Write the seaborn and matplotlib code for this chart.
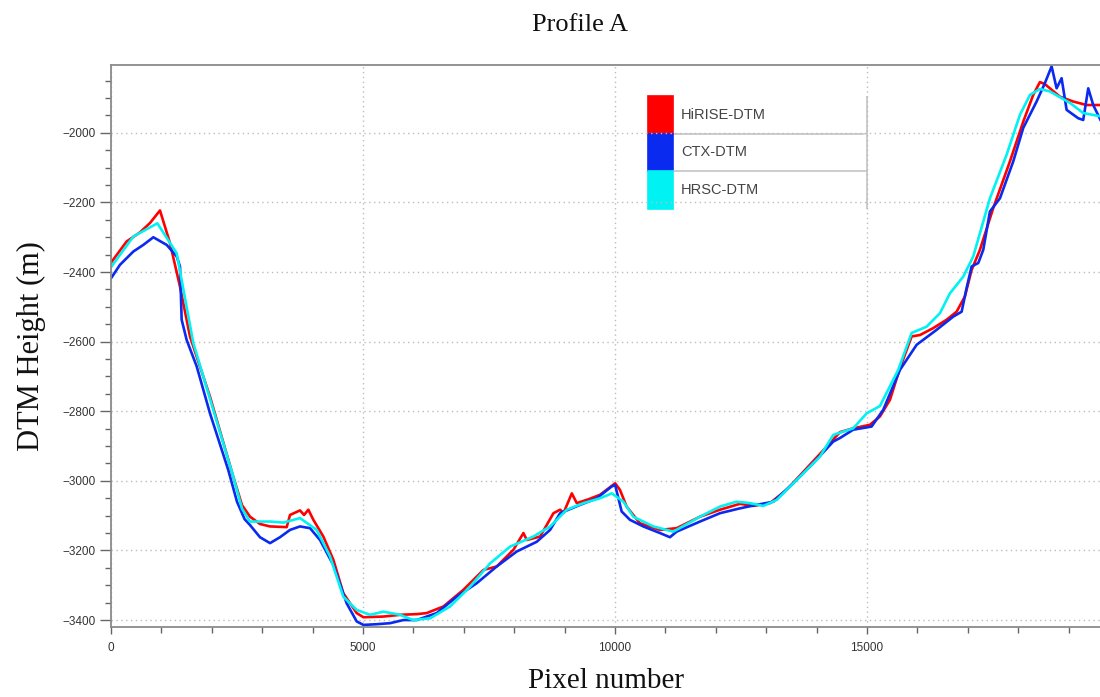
import matplotlib
matplotlib.use("Agg")
import matplotlib.pyplot as plt
import numpy as np
import pandas as pd
import seaborn as sns
from matplotlib.ticker import MultipleLocator

# ---------------- data ----------------
series_names = ["HiRISE-DTM", "CTX-DTM", "HRSC-DTM"]
series_colors = ["#ff0000", "#0a2af0", "#00f2f2"]

hirise_x = [0, 311, 575, 774, 972, 1171, 1369, 1567, 1964, 2426, 2600, 2758, 2956, 3155, 3486,
            3552, 3750, 3830, 3916, 4015, 4213, 4412, 4610, 4875, 5008, 5405, 5736, 6066, 6265,
            6596, 6993, 7390, 7654, 7985, 8183, 8250, 8514, 8779, 8911, 8980, 9143, 9242, 9474,
            9705, 10003, 10099, 10231, 10495, 10892, 11223, 11686, 12083, 12480, 12743, 13075,
            13405, 13802, 14199, 14463, 14727, 15058, 15257, 15456, 15654, 15886, 16051, 16315,
            16580, 16778, 16943, 17076, 17241, 17505, 17836, 18100, 18298, 18431, 18530, 18828,
            19092, 19357, 19650]
hirise_y = [-2373, -2312, -2286, -2259, -2223, -2317, -2442, -2585, -2758, -2988, -3070, -3103,
            -3124, -3131, -3133, -3098, -3085, -3098, -3083, -3112, -3160, -3227, -3323, -3380,
            -3392, -3390, -3385, -3383, -3380, -3361, -3313, -3256, -3246, -3198, -3150, -3170,
            -3160, -3093, -3083, -3092, -3036, -3064, -3053, -3040, -3007, -3026, -3074, -3122,
            -3141, -3136, -3103, -3083, -3066, -3072, -3064, -3026, -2964, -2902, -2860, -2849,
            -2839, -2815, -2767, -2676, -2585, -2581, -2561, -2537, -2514, -2470, -2394, -2336,
            -2216, -2082, -1968, -1891, -1854, -1860, -1896, -1910, -1920, -1920]

ctx_x = [0, 179, 443, 641, 840, 1105, 1303, 1369, 1402, 1501, 1700, 1964, 2327, 2500, 2650,
         2758, 2956, 3155, 3353, 3552, 3750, 3949, 4147, 4412, 4676, 4875, 5008, 5273, 5538,
         5802, 6066, 6463, 6860, 7258, 7654, 8051, 8448, 8712, 8911, 9308, 9639, 9936, 10003,
         10132, 10297, 10561, 10892, 11090, 11223, 11686, 12083, 12480, 12810, 13141, 13537,
         13934, 14331, 14463, 14727, 15091, 15322, 15654, 15985, 16381, 16712, 16878, 16976,
         17076, 17208, 17307, 17439, 17638, 17902, 18100, 18365, 18530, 18663, 18762, 18861,
         18961, 19191, 19290, 19390, 19489, 19650]
ctx_y = [-2418, -2379, -2341, -2322, -2300, -2322, -2355, -2384, -2537, -2595, -2671, -2806,
         -2969, -3060, -3110, -3127, -3162, -3179, -3162, -3141, -3131, -3136, -3170, -3242,
         -3352, -3404, -3414, -3412, -3409, -3400, -3400, -3380, -3333, -3294, -3246, -3203,
         -3175, -3141, -3093, -3069, -3050, -3016, -3012, -3088, -3112, -3131, -3150, -3162,
         -3146, -3117, -3093, -3079, -3069, -3060, -3007, -2949, -2887, -2877, -2853, -2844,
         -2796, -2681, -2609, -2566, -2528, -2514, -2446, -2384, -2374, -2336, -2226, -2188,
         -2082, -1986, -1910, -1857, -1809, -1872, -1843, -1934, -1958, -1963, -1872, -1920,
         -1968]

hrsc_x = [0, 443, 920, 1303, 1633, 2426, 2600, 2758, 3155, 3420, 3750, 4081, 4345, 4610, 4875,
          5140, 5405, 5736, 5995, 6331, 6728, 7125, 7522, 7919, 8382, 8713, 9044, 9375, 9705,
          9937, 10168, 10363, 10760, 11157, 11686, 12083, 12413, 12677, 12942, 13207, 13670,
          14067, 14331, 14727, 14993, 15257, 15620, 15886, 16183, 16448, 16646, 16911, 17109,
          17439, 17770, 18035, 18233, 18431, 18630, 19027, 19290, 19650]
hrsc_y = [-2386, -2298, -2260, -2346, -2604, -2988, -3080, -3117, -3117, -3120, -3107, -3141,
          -3217, -3333, -3371, -3385, -3376, -3385, -3400, -3395, -3361, -3304, -3237, -3189,
          -3160, -3131, -3083, -3064, -3050, -3036, -3060, -3103, -3131, -3146, -3103, -3074,
          -3060, -3064, -3072, -3055, -2988, -2930, -2868, -2849, -2806, -2785, -2681, -2575,
          -2557, -2518, -2461, -2413, -2355, -2188, -2063, -1948, -1891, -1874, -1881, -1914,
          -1943, -1953]

x_major_ticks = [0, 5000, 10000, 15000]
y_major_ticks = [-3400, -3200, -3000, -2800, -2600, -2400, -2200, -2000]

# ---------------- figure ----------------
sns.set_style("ticks")
plt.rcParams["font.family"] = ["Liberation Sans", "DejaVu Sans"]
plt.rcParams["axes.unicode_minus"] = True

fig = plt.figure(figsize=(11, 6.97), dpi=100)
ax = fig.add_axes([111 / 1100, 70 / 697, 990 / 1100, 562 / 697])

frames = []
for name, xs, ys in zip(series_names, [hirise_x, ctx_x, hrsc_x], [hirise_y, ctx_y, hrsc_y]):
    frames.append(pd.DataFrame({"pixel": xs, "height": ys, "series": name}))
df = pd.concat(frames, ignore_index=True)

sns.lineplot(data=df, x="pixel", y="height", hue="series", hue_order=series_names,
             palette=dict(zip(series_names, series_colors)), estimator=None, sort=False,
             legend=False, linewidth=1.9, ax=ax)

ax.set_xlim(0, 19643)
ax.set_ylim(-3420, -1805)
ax.set_xticks(x_major_ticks)
ax.set_yticks(y_major_ticks)
ax.xaxis.set_minor_locator(MultipleLocator(1000))
ax.yaxis.set_minor_locator(MultipleLocator(50))

ax.grid(which="major", linestyle=(0, (1, 2.5)), color="#bcbcbc", linewidth=1.0)
ax.set_axisbelow(True)

for s in ["left", "top", "bottom"]:
    ax.spines[s].set_color("#8a8a8a")
    ax.spines[s].set_linewidth(1.3)
ax.spines["right"].set_visible(False)

ax.tick_params(axis="y", which="major", direction="out", length=8, width=1, color="#666666",
               labelsize=8.5, labelcolor="#333333", pad=3)
ax.tick_params(axis="y", which="minor", direction="out", length=4.5, width=1, color="#666666")
ax.tick_params(axis="x", which="major", direction="out", length=5, width=1, color="#666666",
               labelsize=8.5, labelcolor="#333333", pad=6)
ax.tick_params(axis="x", which="minor", direction="out", length=4.5, width=1, color="#666666")

ax.set_xlabel("Pixel number", fontfamily="Liberation Serif", fontsize=21, labelpad=10,
              color="#111111")
ax.set_ylabel("DTM Height (m)", fontfamily="Liberation Serif", fontsize=22, labelpad=12,
              color="#111111")
fig.text(0.527, 1 - 25 / 697, "Profile A", ha="center", va="center",
         fontfamily="Liberation Serif", fontsize=19, color="#111111")

# legend drawn as a small table (colour swatch | label)
cell_text = [["", n] for n in series_names]
cell_colours = [[c, "white"] for c in series_colors]
tbl = ax.table(cellText=cell_text, cellColours=cell_colours, cellLoc="left",
               bbox=[(648 - 111) / 990, (627 - 209) / 562, (867 - 648) / 990, (209 - 96) / 562],
               colWidths=[25 / 219, 194 / 219])
tbl.auto_set_font_size(False)
tbl.set_fontsize(10.5)
for (r, c), cell in tbl.get_celld().items():
    cell.set_linewidth(1.2)
    cell.PAD = 0.04
    cell.get_text().set_color("#444444")
    if c == 0:
        cell.set_edgecolor(series_colors[r])
        cell.visible_edges = "closed"
    else:
        cell.set_edgecolor("#c4c4c4")
        cell.visible_edges = "BR" if r < 2 else "R"

fig.savefig("out.png", dpi=100)
